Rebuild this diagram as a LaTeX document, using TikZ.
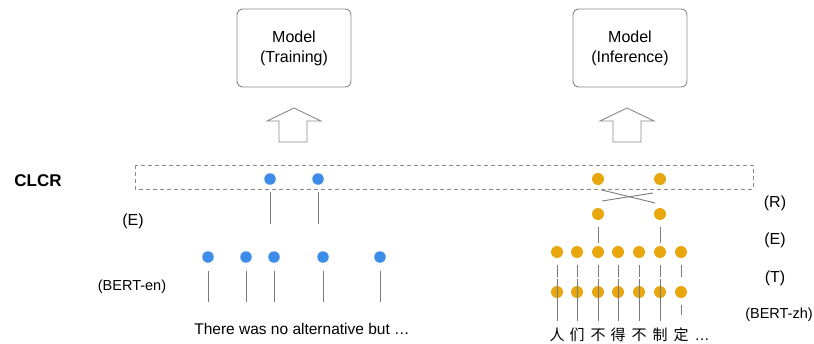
\documentclass[tikz,border=0pt]{standalone}
\usepackage{fontspec}
\setmainfont{Liberation Sans}
\newfontfamily\cjk{Noto Sans CJK SC}
\definecolor{dotblue}{HTML}{3D8CE9}
\definecolor{dotorange}{HTML}{E8A60F}
\definecolor{linegray}{HTML}{7A7A7A}
\definecolor{framegray}{HTML}{8A8A8A}
\begin{document}
\begin{tikzpicture}[x=1pt,y=-1pt,
  bdot/.style={circle,fill=dotblue,inner sep=0pt,minimum size=11.5pt},
  odot/.style={circle,fill=dotorange,inner sep=0pt,minimum size=12pt},
  conn/.style={draw=linegray,line width=0.9pt},
  lbl/.style={font=\fontsize{16}{19}\selectfont,inner sep=0pt},
  smalllbl/.style={font=\fontsize{14.5}{17}\selectfont,inner sep=0pt},
  modelbox/.style={draw=framegray,rounded corners=6pt,minimum width=114pt,
    minimum height=78pt,align=center,line width=0.9pt,
    font=\fontsize{16}{20}\selectfont},
  blockarrow/.style={draw=framegray,line width=0.9pt,fill=white},
  zhchar/.style={font=\cjk\fontsize{15}{17}\selectfont,inner sep=0pt}]
\useasboundingbox (0,0) rectangle (814,343);

% model boxes
\node[modelbox] (train) at (294,48) {Model\\(Training)};
\node[modelbox] (infer) at (630,48) {Model\\(Inference)};

% hollow up arrows
\draw[blockarrow] (267,121) -- (294,108) -- (321,121) -- (307,121)
  -- (307,142) -- (279,142) -- (279,121) -- cycle;
\draw[blockarrow] (600,121) -- (627,108) -- (654,121) -- (641,121)
  -- (641,142) -- (613,142) -- (613,121) -- cycle;

% CLCR band
\node[font=\bfseries\fontsize{17}{20}\selectfont,inner sep=0pt] (clcr) at (38,181) {CLCR};
\draw[draw=framegray,line width=0.9pt,dash pattern=on 4pt off 3pt]
  (135,165) rectangle (753,189);

% English side
\node[bdot] (bc1) at (270,179) {};
\node[bdot] (bc2) at (318,179) {};
\coordinate (bca1) at (270,192); \coordinate (bcb1) at (270,224);
\coordinate (bca2) at (318,192); \coordinate (bcb2) at (318,224);
\draw[conn] (bca1) -- (bcb1);
\draw[conn] (bca2) -- (bcb2);
\foreach \x [count=\i] in {208,246,274,323,380} {
  \node[bdot] (be\i) at (\x,257) {};
  \coordinate (bea\i) at (\x,271);
  \coordinate (beb\i) at (\x,302);
  \draw[conn] (bea\i) -- (beb\i);
}
\node[lbl] (lE) at (133,221) {(E)};
\node[smalllbl] (lbe) at (132,287) {(BERT-en)};
\node[font=\fontsize{15.5}{18}\selectfont,inner sep=0pt] (ensent) at (302,329)
  {There was no alternative but \dots};

% Chinese side
\node[odot] (oc1) at (598,179) {};
\node[odot] (oc2) at (660,179) {};
\node[odot] (or1) at (598,214) {};
\node[odot] (or2) at (660,214) {};
\coordinate (xa1) at (602,190); \coordinate (xb1) at (655,203);
\coordinate (xa2) at (602,201); \coordinate (xb2) at (653,193);
\draw[conn] (xa1) -- (xb1);
\draw[conn] (xa2) -- (xb2);
\draw[conn,shorten <=7pt,shorten >=9pt] (or1) -- (598,252);
\draw[conn,shorten <=7pt,shorten >=9pt] (or2) -- (660,252);
\foreach \x/\c [count=\i] in {557/人,577/们,598/不,618/得,639/不,660/制,681/定} {
  \node[odot] (oe\i) at (\x,252) {};
  \node[odot] (ot\i) at (\x,292) {};
  \draw[conn,shorten <=7pt,shorten >=9pt] (oe\i) -- (ot\i);
  \node[zhchar] (zh\i) at (\x,335) {\c};
}
\foreach \i in {1,...,6} {
  \draw[conn,shorten <=-7pt,shorten >=-23pt] (ot\i.north) -- (ot\i.south);
}
\coordinate (ta7) at (681,305); \coordinate (tb7) at (681,315);
\draw[conn] (ta7) -- (tb7);
\node[font=\fontsize{15}{17}\selectfont,anchor=base] (zhdots) at (702,340) {\dots};

\node[lbl] (lR) at (775,203) {(R)};
\node[lbl] (lE2) at (775,240) {(E)};
\node[lbl] (lT) at (775,278) {(T)};
\node[smalllbl] (lbz) at (779,315) {(BERT-zh)};
\end{tikzpicture}
\end{document}
